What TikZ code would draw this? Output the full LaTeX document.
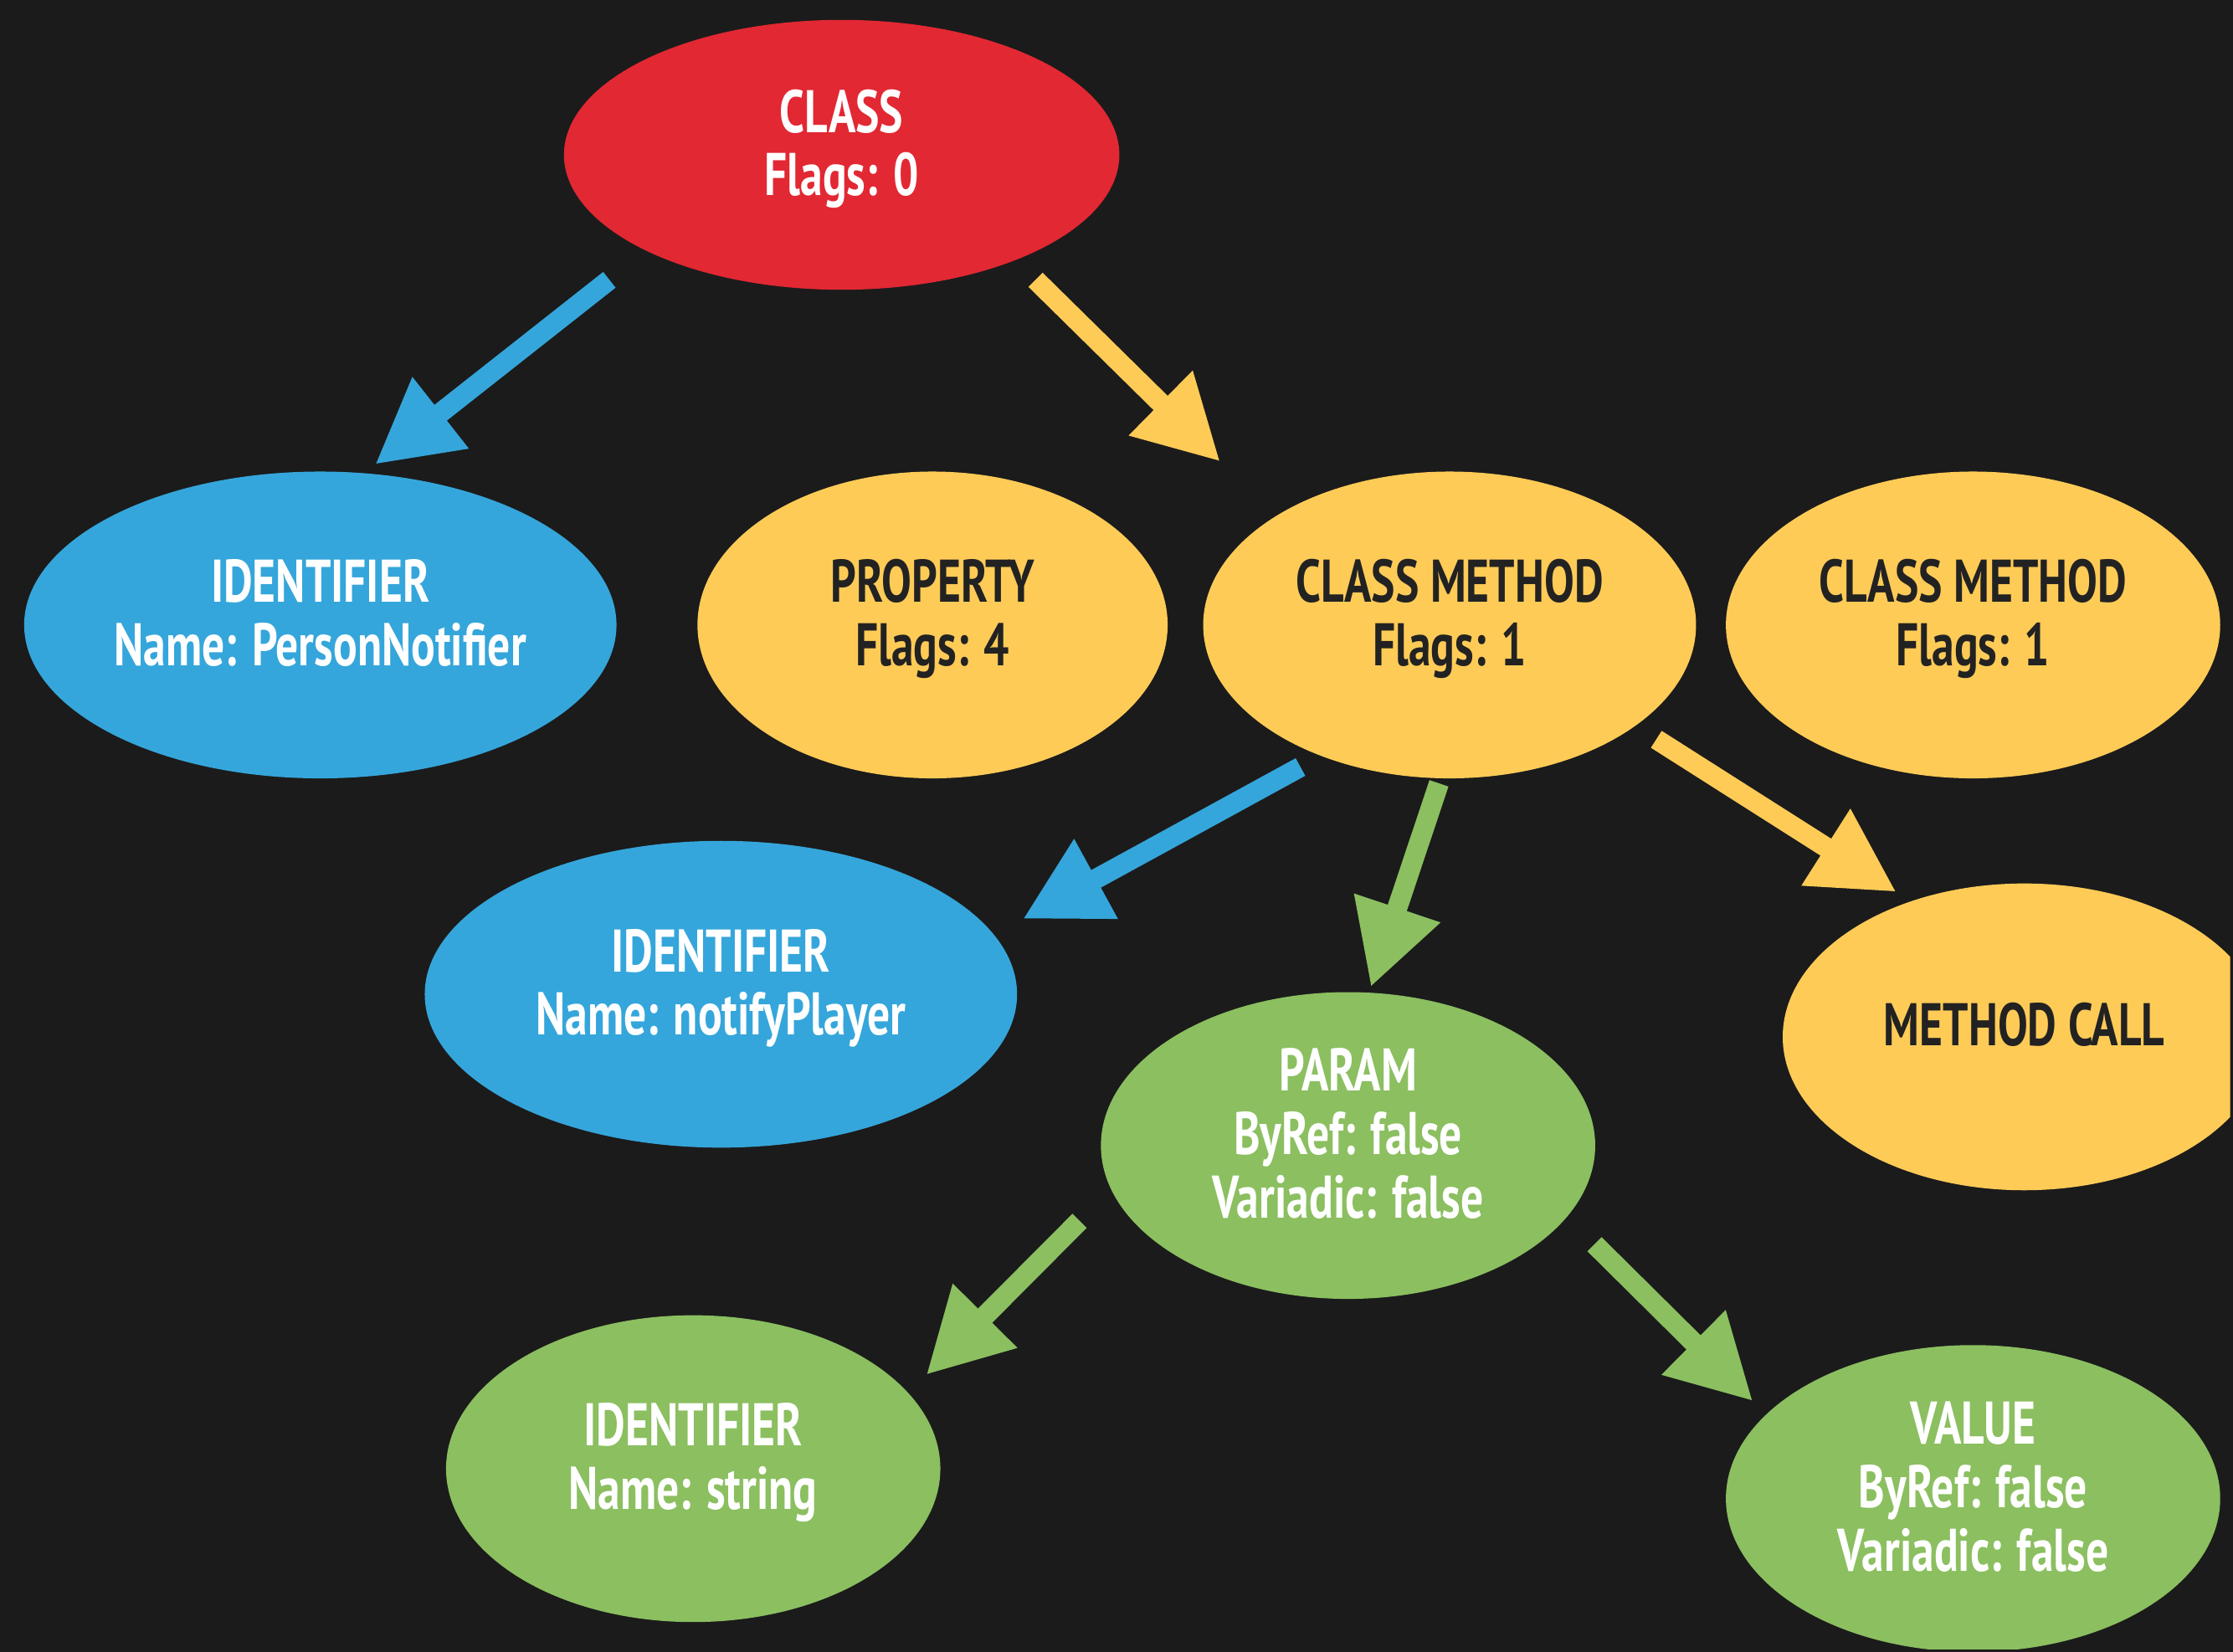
\documentclass[tikz,border=0pt]{standalone}
\usepackage{fontspec}
\setmainfont{PT Sans}[FakeStretch=0.745]
\usetikzlibrary{arrows.meta,shapes.geometric}
\definecolor{bgc}{HTML}{1B1B1B}
\definecolor{cred}{HTML}{E22833}
\definecolor{cblue}{HTML}{35A6DB}
\definecolor{cyel}{HTML}{FECB57}
\definecolor{cgreen}{HTML}{8BBF60}
\definecolor{ctext}{HTML}{222222}
\newcommand\tl[1]{\raisebox{0pt}[22pt][11pt]{#1}}
\tikzset{
  nd/.style 2 args={ellipse, inner sep=0pt, align=center,
    minimum width=#1*1.7pt, minimum height=#2*1.7pt,
    font=\fontsize{36}{38}\selectfont\bfseries},
  rednd/.style={fill=cred, text=white},
  bluend/.style={fill=cblue, text=white},
  yelnd/.style={fill=cyel, text=ctext},
  grnnd/.style={fill=cgreen, text=white},
  arr/.style={line width=12pt, -{Triangle[length=50pt,width=51pt]}},
}
\begin{document}
\begin{tikzpicture}[x=0.85pt,y=-0.85pt]
\fill[bgc] (-2,-2) rectangle (1570,1161);
\useasboundingbox (0,0) rectangle (1568,1159);
\clip (0,0) rectangle (1568,1159);

\node[nd={195.5}{95}, rednd] (cls) at (590.5,107) {\tl{CLASS}\\\tl{Flags: 0}};
\node[nd={208.5}{108}, bluend] (id1) at (223.5,438) {\tl{IDENTIFIER}\\\tl{Name: PersonNotifier}};
\node[nd={165.5}{108}, yelnd] (prop) at (654.5,438) {\tl{PROPERTY}\\\tl{Flags: 4}};
\node[nd={173.5}{108}, yelnd] (cm1) at (1018.5,438) {\tl{CLASS METHOD}\\\tl{Flags: 1}};
\node[nd={174}{108}, yelnd] (cm2) at (1387,438) {\tl{CLASS METHOD}\\\tl{Flags: 1}};
\node[nd={208.5}{108}, bluend] (id2) at (505.5,698) {\tl{IDENTIFIER}\\\tl{Name: notifyPlayer}};
\node[nd={174}{108}, grnnd] (param) at (947,804.5) {\tl{PARAM}\\\tl{ByRef: false}\\\tl{Variadic: false}};
\node[nd={170}{108}, yelnd] (mcall) at (1423,728) {\tl{METHOD CALL}};
\node[nd={174}{108}, grnnd] (id3) at (486,1032) {\tl{IDENTIFIER}\\\tl{Name: string}};
\node[nd={174}{108}, grnnd] (val) at (1387,1053) {\tl{VALUE}\\\tl{ByRef: false}\\\tl{Variadic: false}};

\coordinate (a1s) at (427,195);   \coordinate (a1e) at (262,325);
\coordinate (a2s) at (727,195);   \coordinate (a2e) at (857,323);
\coordinate (a3s) at (913.5,538); \coordinate (a3e) at (718,645);
\coordinate (a4s) at (1011,549.5);\coordinate (a4e) at (963,693);
\coordinate (a5s) at (1164,518.5);\coordinate (a5e) at (1333,626);
\coordinate (a6s) at (758,857.5); \coordinate (a6e) at (650,966);
\coordinate (a7s) at (1120.5,874);\coordinate (a7e) at (1232,984.5);

\draw[arr, cblue] (a1s) -- (a1e);
\draw[arr, cyel] (a2s) -- (a2e);
\draw[arr, cblue] (a3s) -- (a3e);
\draw[arr, cgreen] (a4s) -- (a4e);
\draw[arr, cyel] (a5s) -- (a5e);
\draw[arr, cgreen] (a6s) -- (a6e);
\draw[arr, cgreen] (a7s) -- (a7e);
\end{tikzpicture}
\end{document}
